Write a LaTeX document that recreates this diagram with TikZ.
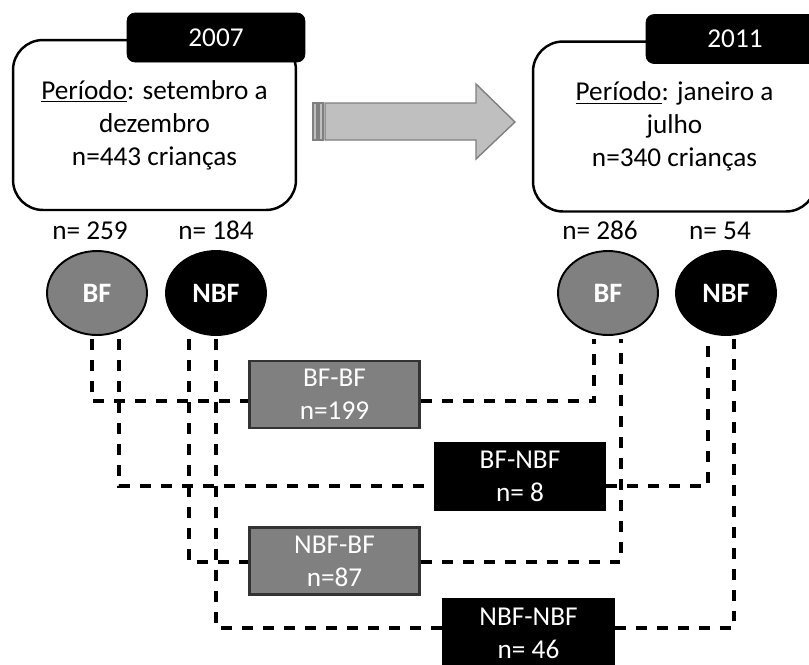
\documentclass[tikz,border=0pt]{standalone}
\usepackage{fontspec}
\setmainfont{Carlito}
\usetikzlibrary{shapes.geometric,positioning}

\begin{document}
\begin{tikzpicture}[
    x=0.02cm,y=-0.02cm,
    every node/.style={font=\fontsize{15.5}{18.8}\selectfont},
    period/.style={draw,line width=1.4pt,rounded corners=0.6cm,fill=white,align=center,
      minimum width=5.66cm,minimum height=3.4cm,inner sep=0pt},
    yeartab/.style={draw=black,fill=black,rounded corners=0.16cm,text=white,
      minimum width=3.56cm,minimum height=0.98cm,inner sep=0pt},
    group/.style={ellipse,draw,line width=1.1pt,minimum width=2cm,minimum height=1.68cm,
      text=white,font=\fontsize{16}{18}\selectfont\bfseries},
    count/.style={inner sep=0pt},
    pair/.style={draw,line width=1.2pt,align=center,text=white,
      minimum width=3.4cm,minimum height=1.34cm,inner sep=0pt},
    link/.style={line width=2pt,dash pattern=on 0.22cm off 0.2cm},
    ]
    \useasboundingbox (0,0) rectangle (809,664);
    \clip (0,0) rectangle (809,664);

    % periods
    \node[period] (box07) at (154.5,125) {\underline{Período}: setembro a\\dezembro\\n=443 crianças};
    \node[yeartab] (tab07) at (216,37.5) {2007};
    \node[period] (box11) at (674.5,126.5) {\underline{Período}: janeiro a\\julho\\n=340 crianças};
    \node[yeartab] (tab11) at (735,39) {2011};

    % arrow
    \draw[draw=black!50,fill=black!25,line width=0.8pt]
      (325,103) -- (476,103) -- (476,84) -- (515,122) -- (476,159) -- (476,140) -- (325,140) -- cycle;
    \draw[draw=black!50,fill=black!25,line width=0.8pt] (313,103) rectangle (317,140);
    \draw[draw=black!50,fill=black!25,line width=0.8pt] (319,103) rectangle (323,140);

    % groups
    \node[group,fill=black!50] (bf07) at (97,293) {BF};
    \node[group,fill=black] (nbf07) at (216,293) {NBF};
    \node[group,fill=black!50] (bf11) at (608,293) {BF};
    \node[group,fill=black] (nbf11) at (726,293) {NBF};
    \node[count,above=0.2cm of bf07,xshift=-0.14cm] {n= 259};
    \node[count,above=0.2cm of nbf07] {n= 184};
    \node[count,above=0.2cm of bf11,xshift=-0.16cm] {n= 286};
    \node[count,above=0.2cm of nbf11,xshift=-0.12cm] {n= 54};

    % transitions
    \node[pair,fill=black!50,draw=black!80] (bfbf) at (334.5,394.5) {BF-BF\\n=199};
    \node[pair,fill=black] (bfnbf) at (520,476.5) {BF-NBF\\n= 8};
    \node[pair,fill=black!50,draw=black!80] (nbfbf) at (334.5,561) {NBF-BF\\n=87};
    \node[pair,fill=black] (nbfnbf) at (528.5,633) {NBF-NBF\\n= 46};

    \foreach \n/\x in {bf07l/92,bf07r/119,nbf07l/189,nbf07r/216,bf11l/594,bf11r/621,nbf11l/708,nbf11r/734}
      \coordinate (\n) at (\x,339);
    \coordinate (lvl1) at (0,401);
    \coordinate (lvl2) at (0,486);
    \coordinate (lvl3) at (0,562);
    \coordinate (lvl4) at (0,628);

    \draw[link] (bf07l) |- (bfbf.west |- lvl1);
    \draw[link] (bfbf.east |- lvl1) -| (bf11l);
    \draw[link] (bf07r) |- (bfnbf.west |- lvl2);
    \draw[link] (bfnbf.east |- lvl2) -| (nbf11l);
    \draw[link] (nbf07l) |- (nbfbf.west |- lvl3);
    \draw[link] (nbfbf.east |- lvl3) -| (bf11r);
    \draw[link] (nbf07r) |- (nbfnbf.west |- lvl4);
    \draw[link] (nbfnbf.east |- lvl4) -| (nbf11r);
\end{tikzpicture}
\end{document}
